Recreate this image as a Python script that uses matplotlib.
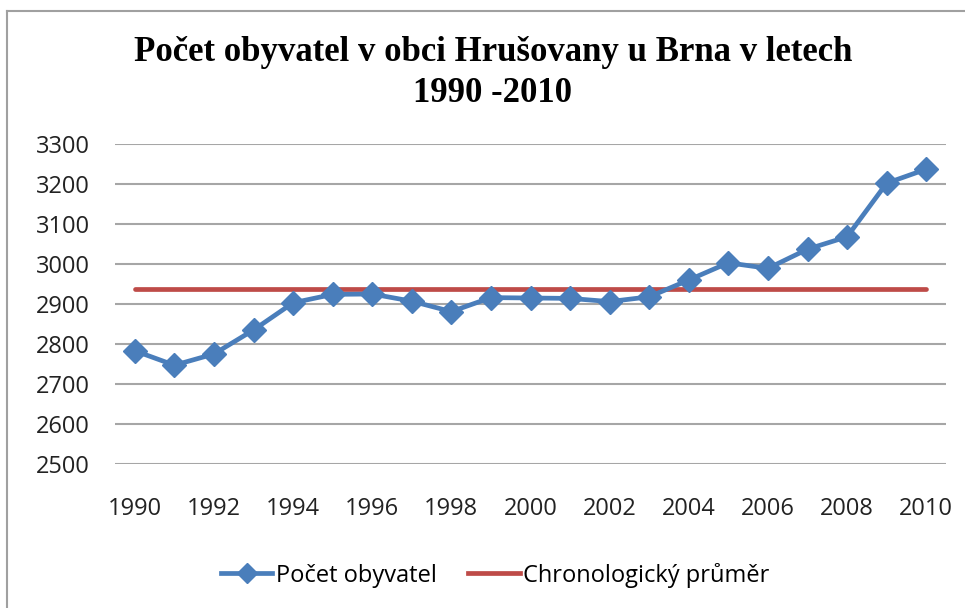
import matplotlib.pyplot as plt
from matplotlib.lines import Line2D

years = list(range(1990, 2011))
population = [2783, 2747, 2775, 2835, 2903, 2924, 2925, 2907, 2881, 2916, 2915,
              2914, 2906, 2918, 2960, 3003, 2989, 3037, 3068, 3202, 3237]
average = 2937
xtick_years = list(range(1990, 2011, 2))
ytick_values = list(range(2500, 3301, 100))

title = "Počet obyvatel v obci Hrušovany u Brna v letech\n1990 -2010"
label_series = "Počet obyvatel"
label_avg = "Chronologický průměr"

blue = "#4A7EBB"
red = "#BE4B48"
grid_gray = "#A6A6A6"

W, H = 965, 608
fig = plt.figure(figsize=(W / 100, H / 100), dpi=100)

# plot area in pixel coords of the reference
left, right, top, bottom = 115, 946, 144, 464
ax = fig.add_axes([left / W, 1 - bottom / H, (right - left) / W, (bottom - top) / H])

ax.plot(years, [average] * len(years), color=red, lw=3.4, solid_capstyle="round", zorder=2)
ax.plot(years, population, color=blue, lw=3.4, marker="D", markersize=12,
        markeredgecolor=blue, zorder=3)

ax.set_xlim(1989.5, 2010.5)
ax.set_ylim(2500, 3300)
ax.set_yticks(ytick_values)
ax.set_xticks(xtick_years)
ax.grid(axis="y", color=grid_gray, lw=1.5)
ax.set_axisbelow(True)
for s in ax.spines.values():
    s.set_visible(False)
ax.tick_params(length=0, labelsize=17, labelcolor="#222222")
ax.tick_params(axis="y", pad=18)
ax.tick_params(axis="x", pad=24)
for lab in ax.get_xticklabels() + ax.get_yticklabels():
    lab.set_fontfamily("Open Sans")

fig.text(493 / W, 1 - 73 / H, title, ha="center", va="center",
         family="Liberation Serif", weight="bold", fontsize=25, linespacing=1.35)

handles = [
    Line2D([], [], color=blue, lw=3.4, marker="D", markersize=10),
    Line2D([], [], color=red, lw=3.4),
]
fig.legend(handles, [label_series, label_avg], loc="center", ncol=2,
           bbox_to_anchor=(495 / W, 1 - 575 / H), frameon=False,
           prop={"family": "Open Sans", "size": 17}, handlelength=2.2,
           handletextpad=0.15, columnspacing=1.3)

# chart border (top and left visible)
fig.add_artist(Line2D([7 / W, 1], [1 - 11 / H, 1 - 11 / H], color="#A0A0A0", lw=1.5))
fig.add_artist(Line2D([7 / W, 7 / W], [0, 1 - 11 / H], color="#A0A0A0", lw=1.5))

fig.savefig("out.png", dpi=100, facecolor="white")
